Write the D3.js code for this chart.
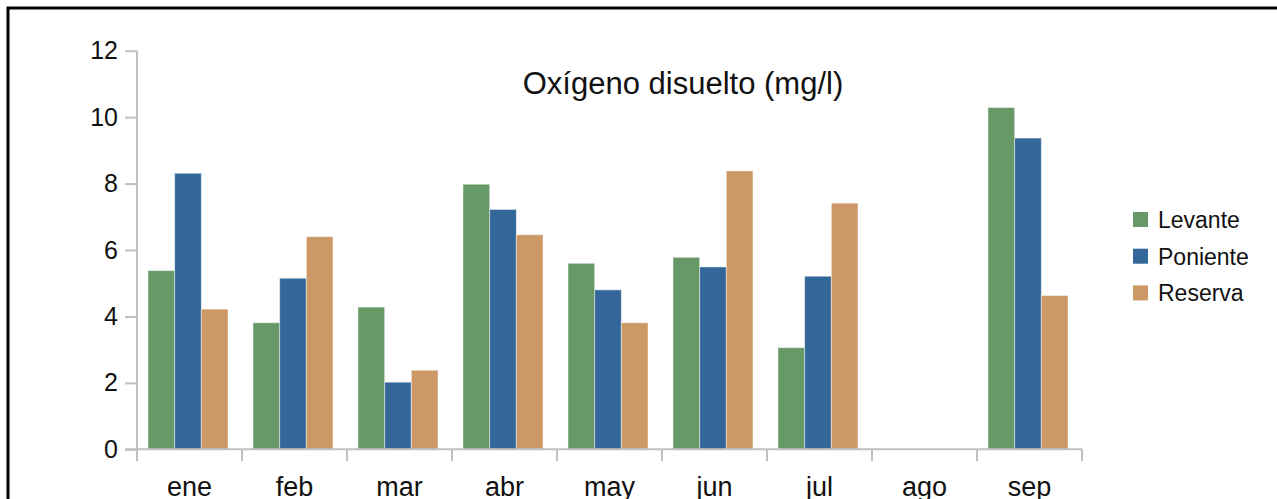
<!DOCTYPE html>
<html>
<head>
<meta charset="utf-8">
<script src="https://cdn.jsdelivr.net/npm/d3@7"></script>
<style>
  body { margin: 0; background: #fff; }
  text { font-family: "Liberation Sans", Arial, sans-serif; fill: #111; }
</style>
</head>
<body>
<script>
var months = ["ene", "feb", "mar", "abr", "may", "jun", "jul", "ago", "sep"];
var series = ["Levante", "Poniente", "Reserva"];
var colors = ["#669966", "#336699", "#cc9966"];
var levante  = [5.38, 3.81, 4.28, 7.98, 5.60, 5.78, 3.06, null, 10.29];
var poniente = [8.31, 5.15, 2.02, 7.22, 4.80, 5.49, 5.21, null, 9.37];
var reserva  = [4.22, 6.40, 2.38, 6.46, 3.81, 8.38, 7.41, null, 4.63];
var yTicks = [0, 2, 4, 6, 8, 10, 12];
var title = "Oxígeno disuelto (mg/l)";

var W = 1277, H = 499;
var svg = d3.select("body").append("svg")
    .attr("width", W)
    .attr("height", H);

// frame
svg.append("rect")
    .attr("x", 8).attr("y", 8)
    .attr("width", 1300).attr("height", 600)
    .attr("fill", "none")
    .attr("stroke", "#000")
    .attr("stroke-width", 3);

var x0 = d3.scaleBand().domain(months).range([137, 1082]);
var x1 = d3.scaleBand().domain(series).range([11, 91]);
var y = d3.scaleLinear().domain([0, 12]).range([449.3, 50.7]);

var rows = months.map(function (m, i) {
    return { month: m, values: [levante[i], poniente[i], reserva[i]] };
});

// bars
var groups = svg.append("g").selectAll("g")
    .data(rows)
    .enter().append("g")
    .attr("transform", function (d) { return "translate(" + x0(d.month) + ",0)"; });

groups.selectAll("rect")
    .data(function (d) {
        return d.values.map(function (v, j) { return { key: series[j], value: v, c: colors[j] }; })
            .filter(function (e) { return e.value != null; });
    })
    .enter().append("rect")
    .attr("x", function (d) { return x1(d.key); })
    .attr("width", x1.bandwidth())
    .attr("y", function (d) { return y(d.value); })
    .attr("height", function (d) { return y(0) - y(d.value); })
    .attr("fill", function (d) { return d.c; })
    .attr("stroke", "rgba(255,255,255,0.45)")
    .attr("stroke-width", 1);

// y axis
var yAxis = svg.append("g")
    .attr("transform", "translate(137,0)")
    .call(d3.axisLeft(y).tickValues(yTicks).tickSize(12).tickPadding(7));
yAxis.selectAll("line, path").attr("stroke", "#c0c0c0").attr("stroke-width", 2);
yAxis.select(".domain").attr("d", "M0," + y(12) + "V" + y(0));
yAxis.selectAll("text").attr("font-size", 25).attr("fill", "#111")
    .attr("font-family", "Liberation Sans, Arial, sans-serif");

// x axis with ticks between categories
var xAxis = svg.append("g");
xAxis.append("line")
    .attr("x1", 125).attr("x2", x0.range()[1])
    .attr("y1", y(0)).attr("y2", y(0))
    .attr("stroke", "#c0c0c0").attr("stroke-width", 2);
xAxis.selectAll("line.tk")
    .data(months.map(function (m) { return x0(m); }).concat([x0.range()[1]]))
    .enter().append("line")
    .attr("class", "tk")
    .attr("x1", function (d) { return d; }).attr("x2", function (d) { return d; })
    .attr("y1", y(0)).attr("y2", y(0) + 12)
    .attr("stroke", "#c0c0c0").attr("stroke-width", 2);
xAxis.selectAll("text")
    .data(months)
    .enter().append("text")
    .attr("x", function (d) { return x0(d) + x0.bandwidth() / 2; })
    .attr("y", 496)
    .attr("text-anchor", "middle")
    .attr("font-size", 27)
    .text(function (d) { return d; });

// title
svg.append("text")
    .attr("x", 683).attr("y", 94)
    .attr("text-anchor", "middle")
    .attr("font-size", 31)
    .text(title);

// legend
var legend = svg.append("g").selectAll("g")
    .data(series)
    .enter().append("g")
    .attr("transform", function (d, i) { return "translate(1133," + (212 + i * 36.7) + ")"; });
legend.append("rect")
    .attr("width", 15).attr("height", 15)
    .attr("fill", function (d, i) { return colors[i]; });
legend.append("text")
    .attr("x", 25).attr("y", 16)
    .attr("font-size", 23)
    .text(function (d) { return d; });
</script>
</body>
</html>
